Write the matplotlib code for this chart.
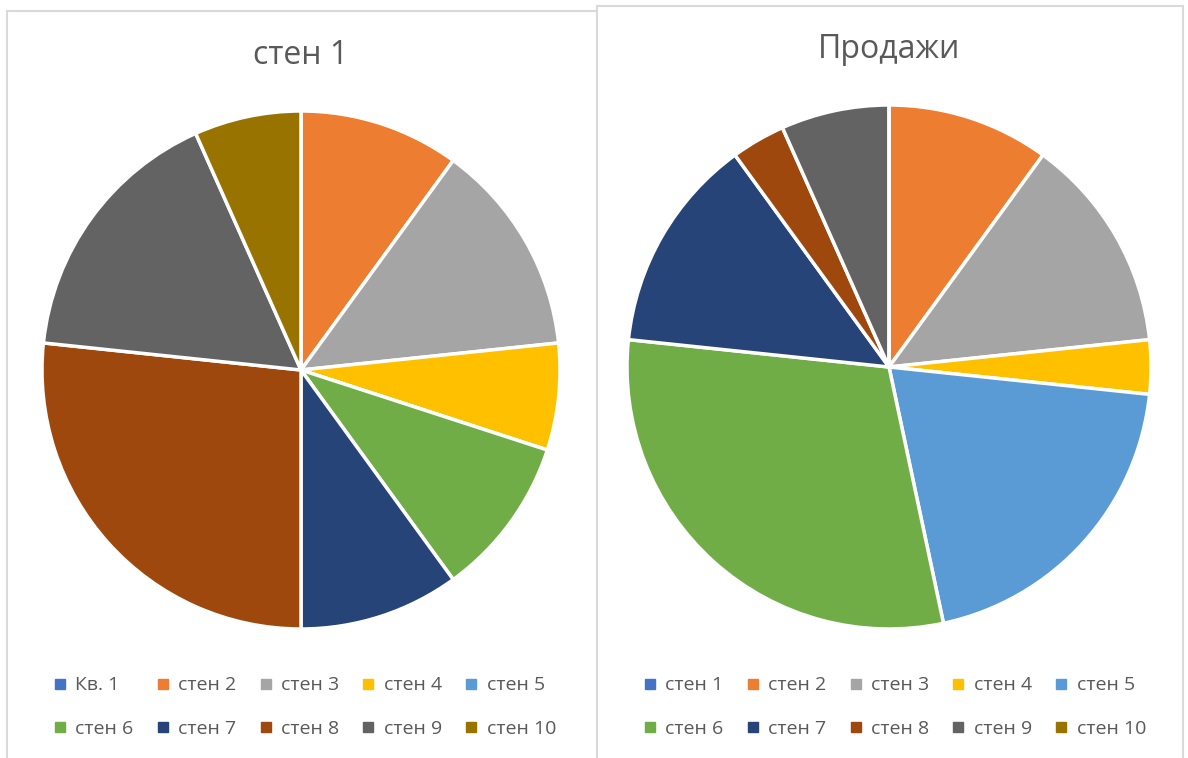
import matplotlib.pyplot as plt
from matplotlib.patches import Rectangle
from matplotlib.lines import Line2D

plt.rcParams['font.family'] = ['Open Sans', 'DejaVu Sans']

# data
left_title = 'стен 1'
left_labels = ['Кв. 1', 'стен 2', 'стен 3', 'стен 4', 'стен 5',
               'стен 6', 'стен 7', 'стен 8', 'стен 9', 'стен 10']
left_values = [0, 3, 4, 2, 0, 3, 3, 8, 5, 2]

right_title = 'Продажи'
right_labels = ['стен 1', 'стен 2', 'стен 3', 'стен 4', 'стен 5',
                'стен 6', 'стен 7', 'стен 8', 'стен 9', 'стен 10']
right_values = [0, 3, 4, 1, 6, 9, 4, 1, 2, 0]

colors = ['#4472C4', '#ED7D31', '#A5A5A5', '#FFC000', '#5B9BD5',
          '#70AD47', '#264478', '#9E480E', '#636363', '#997300']
text_color = '#595959'

W, H = 1188, 758
fig = plt.figure(figsize=(W / 100, H / 100), dpi=100)

# chart panels (right one overlaps the left)
fig.patches.append(Rectangle((7 / W, -0.1), 620 / W, 1 - 11 / H + 0.1, transform=fig.transFigure,
                             facecolor='white', edgecolor='#D9D9D9', linewidth=1.5, zorder=-2))
fig.patches.append(Rectangle((597 / W, -0.1), 586 / W, 1 - 6 / H + 0.1, transform=fig.transFigure,
                             facecolor='white', edgecolor='#D9D9D9', linewidth=1.5, zorder=-1))

# legend fills column by column, so reorder to get row order
order = [0, 5, 1, 6, 2, 7, 3, 8, 4, 9]


def draw_pie(cx, cy, r, values, title, title_y, labels, leg_x, leg_y):
    ax = fig.add_axes([(cx - r) / W, 1 - (cy + r) / H, 2 * r / W, 2 * r / H])
    ax.pie(values, colors=colors, startangle=90, counterclock=False,
           wedgeprops=dict(edgecolor='white', linewidth=2.5))
    ax.set_xlim(-1, 1)
    ax.set_ylim(-1, 1)
    ax.set_aspect('auto')
    ax.axis('off')
    fig.text(cx / W, 1 - title_y / H, title, ha='center', va='center',
             fontsize=23, color=text_color)
    handles = [Line2D([], [], marker='s', linestyle='none', markersize=7,
                      markerfacecolor=c, markeredgecolor=c) for c in colors]
    fig.legend([handles[i] for i in order], [labels[i] for i in order],
               ncol=5, loc='center',
               bbox_to_anchor=(leg_x / W, 1 - leg_y / H), frameon=False,
               fontsize=14, labelcolor=text_color, handlelength=0.6,
               handletextpad=0.5, columnspacing=1.2, labelspacing=1.3)


draw_pie(301, 370, 259, left_values, left_title, 55, left_labels, 305, 707)
draw_pie(889, 367, 262, right_values, right_title, 50, right_labels, 895, 707)

fig.savefig('out.png', dpi=100)
